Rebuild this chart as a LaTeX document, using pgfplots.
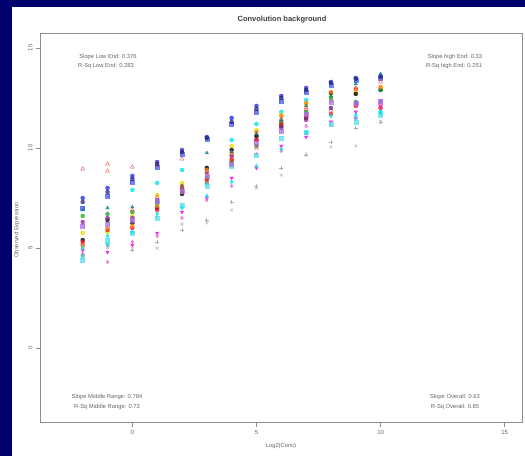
\documentclass[border=0pt]{standalone}
\usepackage{pgfplots}
\pgfplotsset{compat=1.18}
\usepackage{pgfplotstable}
\usepackage{fontspec}
\setmainfont{Liberation Sans}
\definecolor{navybg}{RGB}{0,0,110}
\definecolor{cBlue}{RGB}{40,40,230}
\definecolor{cBlue2}{RGB}{70,90,235}
\definecolor{cRed}{RGB}{235,30,30}
\definecolor{cCyan}{RGB}{0,225,235}
\definecolor{cCyan2}{RGB}{90,220,240}
\definecolor{cYellow}{RGB}{240,220,0}
\definecolor{cGreen}{RGB}{30,170,40}
\definecolor{cPurple}{RGB}{150,40,160}
\definecolor{cOrange}{RGB}{250,130,20}
\definecolor{cMag}{RGB}{235,0,235}
\definecolor{cPink}{RGB}{240,110,210}
\definecolor{cGray}{RGB}{150,150,150}
\definecolor{cGray2}{RGB}{185,185,185}
\definecolor{cTeal}{RGB}{0,130,140}
\definecolor{cNavy}{RGB}{40,40,120}
\definecolor{cViolet}{RGB}{170,110,230}
\pgfplotstableread{
x   s1    s2    s3    s4    s5    s6    s7    s8    s9    s10   s11   s12   s13   s14   s15   s16   s17   s18   s19   s20
-2  7.5   7.0   8.95  4.6   5.75  5.4   6.6   6.3   5.3   5.1   4.9   4.7   4.7   4.5   6.9   4.4   7.3   6.1   5.0   5.2
-1  8.0   7.6   9.2   5.2   5.8   6.4   6.7   6.5   5.9   6.0   4.8   4.3   5.1   5.0   7.0   5.4   7.8   6.2   5.6   8.85
0   8.6   8.3   9.05  7.9   6.6   6.25  6.8   6.5   6.0   6.1   5.15  5.3   4.9   5.0   7.05  5.75  8.45  6.4   5.8   6.9
1   9.3   9.05  9.15  8.25  7.65  7.0   7.2   7.4   6.9   7.1   5.75  5.6   5.3   5.0   7.3   6.5   9.2   7.35  6.7   7.55
2   9.9   9.7   9.45  8.9   8.25  7.7   7.9   8.0   7.8   8.1   6.8   6.5   5.9   6.2   8.1   7.15  9.8   7.85  7.0   8.05
3   10.55 10.45 9.0   8.2   8.7   9.0   8.5   8.8   8.4   8.9   7.5   7.4   6.4   6.25  9.75  8.1   10.5  8.6   7.6   8.3
4   11.5  11.2  9.7   10.4  10.1  9.9   9.3   9.6   9.4   9.75  8.5   8.1   7.3   6.9   9.8   9.1   11.3  9.2   8.3   9.5
5   12.1  11.8  10.6  11.2  10.9  10.6  10.1  10.4  10.4  10.8  9.0   9.7   8.1   8.0   10.7  9.65  11.95 10.25 9.1   10.0
6   12.6  12.35 11.3  11.8  11.65 11.1  11.3  11.0  11.2  11.6  10.1  9.85  9.0   8.65  11.4  10.5  12.5  10.85 9.95  11.45
7   13.0  12.8  11.9  12.4  12.2  11.5  11.8  11.4  11.6  12.25 10.55 11.1  9.65  9.7   12.1  10.8  12.9  11.7  10.75 12.0
8   13.3  13.15 12.4  12.0  12.7  12.75 12.5  12.0  11.7  12.8  11.3  11.15 10.3  10.05 12.6  11.2  13.25 12.3  11.6  11.9
9   13.5  13.4  12.9  11.5  12.75 12.7  12.3  12.2  12.1  12.95 11.8  11.5  11.0  10.1  13.2  11.3  13.45 12.25 11.65 13.0
10  13.6  13.5  12.2  11.8  13.0  12.9  12.9  12.3  12.0  13.05 12.1  12.2  11.3  11.3  13.7  11.65 13.55 12.35 11.75 13.3
}\data
\begin{document}
\begin{tikzpicture}[x=1pt,y=1pt]
\useasboundingbox (0,0) rectangle (525,456);
\fill[navybg] (0,0) rectangle (525,456);
\fill[white] (12,0) rectangle (525,449);
\begin{axis}[
  at={(40pt,33.5pt)}, anchor=south west,
  width=482.6pt, height=389pt, scale only axis,
  xmin=-3.72, xmax=15.72, ymin=-3.72, ymax=15.72,
  xtick={0,5,10,15}, ytick={0,5,10,15},
  xtick pos=left, ytick pos=left,
  tick align=outside, major tick length=4pt,
  axis line style={black!45, line width=0.8pt},
  every tick/.style={black!45, line width=0.6pt},
  ticklabel style={font=\fontsize{6}{7}\selectfont, text=black!60},
  yticklabel style={rotate=90, anchor=south},
  /pgf/number format/assume math mode=true,
  clip=false,
  every axis plot/.append style={only marks, mark size=2pt, opacity=0.75},
]
\addplot[cBlue, mark=*] table[x=x,y=s1]{\data};
\addplot[cBlue2, mark=square*] table[x=x,y=s2]{\data};
\addplot[cRed, mark=triangle, mark size=2.3pt] table[x=x,y=s3]{\data};
\addplot[cCyan, mark=*] table[x=x,y=s4]{\data};
\addplot[cYellow, mark=*] table[x=x,y=s5]{\data};
\addplot[black, mark=*] table[x=x,y=s6]{\data};
\addplot[cGreen, mark=*] table[x=x,y=s7]{\data};
\addplot[cPurple, mark=*] table[x=x,y=s8]{\data};
\addplot[cRed, mark=*] table[x=x,y=s9]{\data};
\addplot[cOrange, mark=*] table[x=x,y=s10]{\data};
\addplot[cMag, mark=triangle*, mark options={rotate=180}] table[x=x,y=s11]{\data};
\addplot[cPink, mark=diamond*] table[x=x,y=s12]{\data};
\addplot[cGray, mark=+, mark size=2pt, line width=0.8pt] table[x=x,y=s13]{\data};
\addplot[cGray2, mark=x, mark size=2pt, line width=0.8pt] table[x=x,y=s14]{\data};
\addplot[cTeal, mark=triangle*] table[x=x,y=s15]{\data};
\addplot[cCyan2, mark=square*] table[x=x,y=s16]{\data};
\addplot[cNavy, mark=*] table[x=x,y=s17]{\data};
\addplot[cViolet, mark=square*] table[x=x,y=s18]{\data};
\addplot[cCyan, mark=diamond*] table[x=x,y=s19]{\data};
\addplot[cRed, mark=triangle, mark size=2.3pt] table[x=x,y=s20]{\data};
\end{axis}
\begin{scope}[every node/.style={font=\fontsize{5.8}{6.5}\selectfont, text=black!60, inner sep=0pt}]
\node at (108,{456-57}) {Slope Low End: 0.376};
\node at (106,{456-66}) {R-Sq Low End: 0.283};
\node at (455,{456-57}) {Slope high End: 0.33};
\node at (454,{456-66}) {R-Sq high End: 0.251};
\node at (107,{456-397}) {Slope Middle Range: 0.784};
\node at (107,{456-407}) {R-Sq Middle Range: 0.73};
\node at (455,{456-397}) {Slope Overall: 0.63};
\node at (455,{456-407}) {R-Sq Overall: 0.85};
\node at (281,{456-446}) {Log2(Conc)};
\node[rotate=90] at (17,{456-230}) {Observed Expression};
\node[font=\fontsize{7.5}{8}\selectfont\bfseries, text=black!75] at (282,{456-20}) {Convolution background};
\end{scope}
\end{tikzpicture}
\end{document}
